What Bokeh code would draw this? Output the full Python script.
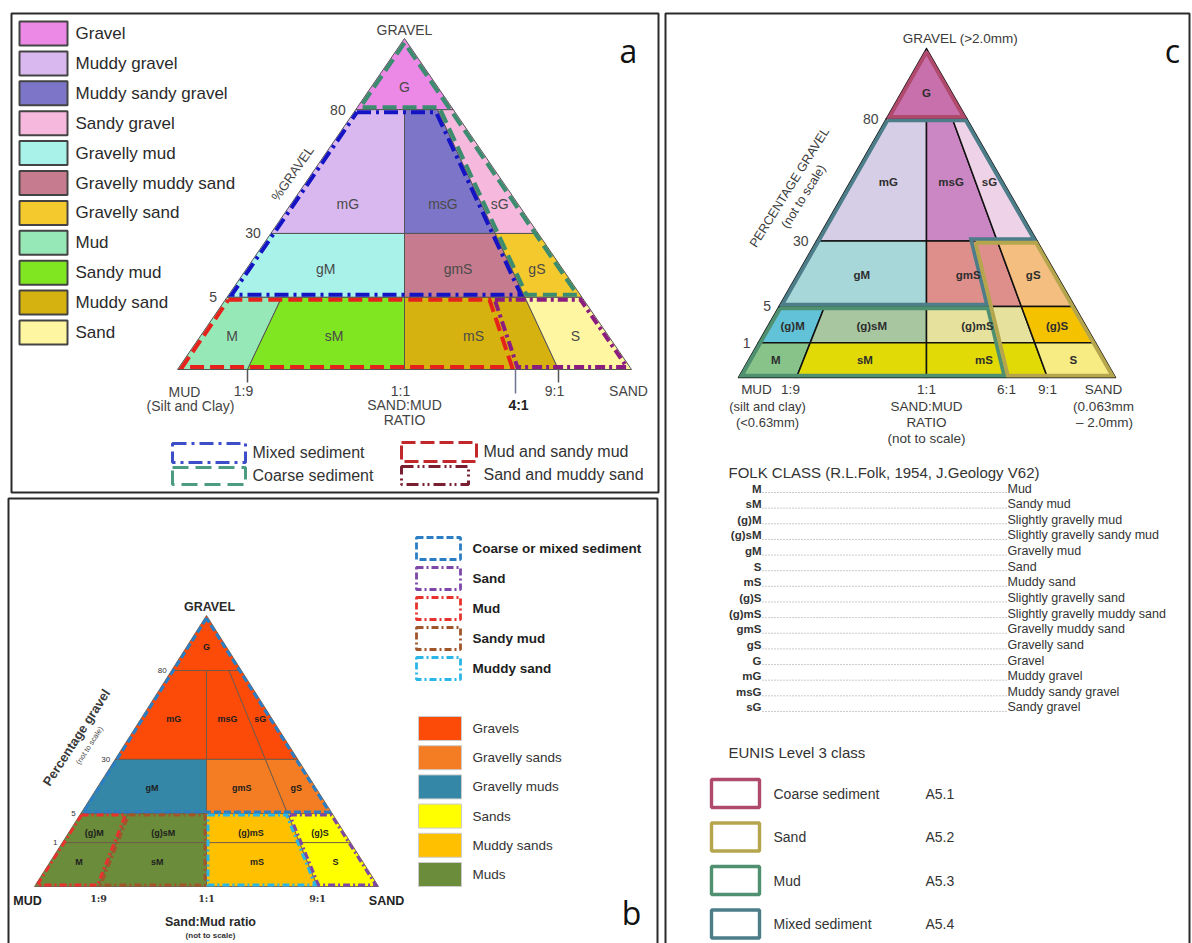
import numpy as np
from bokeh.plotting import figure
from bokeh.models import Range1d
from bokeh.core.properties import value
from bokeh.embed import file_html
from bokeh.resources import INLINE

H = 943
SANS = "Liberation Sans"

# ======================= DATA =======================
# Panel a : Folk classes (gravel % range, sand fraction sand/(sand+mud) range)
a_codes = ["G", "mG", "msG", "sG", "gM", "gmS", "gS", "M", "sM", "mS", "S"]
a_gravel_lo = [80, 30, 30, 30, 5, 5, 5, 0, 0, 0, 0]
a_gravel_hi = [100, 80, 80, 80, 30, 30, 30, 5, 5, 5, 5]
a_sand_lo = [0, 0, 0.5, 0.9, 0, 0.5, 0.9, 0, 0.1, 0.5, 0.9]
a_sand_hi = [1, 0.5, 0.9, 1, 0.5, 0.9, 1, 0.1, 0.5, 0.9, 1]
a_names = ["Gravel", "Muddy gravel", "Muddy sandy gravel", "Sandy gravel", "Gravelly mud",
           "Gravelly muddy sand", "Gravelly sand", "Mud", "Sandy mud", "Muddy sand", "Sand"]
a_gravel_ticks = [80, 30, 5]
a_ratio_labels = ["1:9", "1:1", "4:1", "9:1"]
a_ratio_values = [0.1, 0.5, 0.8, 0.9]
a_outline_names = ["Mixed sediment", "Coarse sediment", "Mud and sandy mud", "Sand and muddy sand"]
a_outline_pts = [
    [(80, 0), (80, 0.9), (5, 0.9), (5, 0)],
    [(100, 0.5), (80, 0), (80, 0.9), (5, 0.9), (5, 1)],
    [(5, 0), (5, 0.8), (0, 0.8), (0, 0)],
    [(5, 0.8), (5, 1), (0, 1), (0, 0.8)],
]

# Panels b and c : Folk classes with the 1 % gravel level
folk_codes = ["G", "mG", "msG", "sG", "gM", "gmS", "gS", "(g)M", "(g)sM", "(g)mS", "(g)S", "M", "sM", "mS", "S"]
folk_gravel_lo = [80, 30, 30, 30, 5, 5, 5, 1, 1, 1, 1, 0, 0, 0, 0]
folk_gravel_hi = [100, 80, 80, 80, 30, 30, 30, 5, 5, 5, 5, 1, 1, 1, 1]
folk_sand_lo = [0, 0, 0.5, 0.9, 0, 0.5, 0.9, 0, 0.1, 0.5, 0.9, 0, 0.1, 0.5, 0.9]
folk_sand_hi = [1, 0.5, 0.9, 1, 0.5, 0.9, 1, 0.1, 0.5, 0.9, 1, 0.1, 0.5, 0.9, 1]

b_groups = ["Gravels", "Gravels", "Gravels", "Gravels", "Gravelly muds", "Gravelly sands", "Gravelly sands",
            "Muds", "Muds", "Muddy sands", "Sands", "Muds", "Muds", "Muddy sands", "Sands"]
b_group_names = ["Gravels", "Gravelly sands", "Gravelly muds", "Sands", "Muddy sands", "Muds"]
b_outline_names = ["Coarse or mixed sediment", "Sand", "Mud", "Sandy mud", "Muddy sand"]
b_outline_pts = [
    [(100, 0.5), (5, 0), (5, 1)],
    [(5, 0.9), (5, 1), (0, 1), (0, 0.9)],
    [(5, 0), (5, 0.1), (0, 0.1), (0, 0)],
    [(5, 0.1), (5, 0.5), (0, 0.5), (0, 0.1)],
    [(5, 0.5), (5, 0.9), (0, 0.9), (0, 0.5)],
]
b_gravel_ticks = [80, 30, 5, 1]
b_ratio_labels = ["1:9", "1:1", "9:1"]
b_ratio_values = [0.1, 0.5, 0.9]

c_gravel_ticks = [80, 30, 5, 1]
c_ratio_labels = ["1:9", "1:1", "6:1", "9:1"]
c_ratio_values = [0.1, 0.5, 6 / 7, 0.9]
eunis_names = ["Coarse sediment", "Sand", "Mud", "Mixed sediment"]
eunis_codes = ["A5.1", "A5.2", "A5.3", "A5.4"]
eunis_pts = [
    [(100, 0.5), (80, 0), (80, 1)],
    [(30, 6 / 7), (30, 1), (0, 1), (0, 6 / 7)],
    [(5, 0), (5, 6 / 7), (0, 6 / 7), (0, 0)],
    [(80, 0), (80, 1), (30, 1), (30, 6 / 7), (5, 6 / 7), (5, 0)],
]
table_codes = ["M", "sM", "(g)M", "(g)sM", "gM", "S", "mS", "(g)S", "(g)mS", "gmS", "gS", "G", "mG", "msG", "sG"]
table_names = ["Mud", "Sandy mud", "Slightly gravelly  mud", "Slightly gravelly sandy mud", "Gravelly mud",
               "Sand", "Muddy sand", "Slightly gravelly sand", "Slightly gravelly muddy sand",
               "Gravelly muddy sand", "Gravelly sand", "Gravel", "Muddy gravel", "Muddy sandy gravel",
               "Sandy gravel"]

# ======================= STYLE / LAYOUT =======================
a_colors = ["#EC88E6", "#D9B8F0", "#7D76C8", "#F6B8DC", "#A8F2EA", "#C67C8E", "#F4C92E",
            "#96E8B6", "#80E622", "#D6B210", "#FFF6A2"]
b_group_colors = {"Gravels": "#FC4A08", "Gravelly sands": "#F47C22", "Gravelly muds": "#3487A7",
                  "Sands": "#FFFF00", "Muddy sands": "#FFC000", "Muds": "#6B8C3A"}
c_colors = ["#C870AC", "#D6CEE6", "#CB87C3", "#EED3E8", "#A7D7D8", "#DF8F8B", "#F4BE80",
            "#62C3D8", "#A8C6A0", "#E6E29E", "#F5C200", "#88C48A", "#E2DA06", "#E2DA06", "#F7EC84"]
a_outline_style = [("#1414C4", "14 5 3 5"), ("#3C8C70", "14 6"), ("#E6221C", "14 6"), ("#8C1C80", "10 4 3 4")]
a_legend_style = [("#3C4EC8", "14 5 3 5"), ("#4C9C84", "16 7"), ("#C0282C", "14 5"), ("#7A1E32", "12 4 2 3 2 4")]
b_outline_style = [("#2C7EC4", "7 3"), ("#7D47A8", "7 3 2 3"), ("#E8322E", "7 3 2 3"),
                   ("#A0562A", "7 3 2 3"), ("#2AB6E6", "7 3 2 3")]
eunis_colors = ["#B04A6C", "#B5A64E", "#4F9070", "#4E7D8A"]

GA = dict(ax=404, ay=38, by=369, g=[0, 5, 30, 80, 100], h=[0, 0.218, 0.411, 0.785, 1.0],
          s=[0, 0.1, 0.5, 0.8, 0.9, 1.0], bx=[177, 247, 404, 515, 558, 631])
GB = dict(ax=206, ay=615, by=886, g=[0, 1, 5, 30, 80, 100], h=[0, 0.162, 0.269, 0.469, 0.797, 1.0],
          s=[0, 0.1, 0.5, 0.9, 1.0], bx=[34, 98, 206, 317, 378])
GC = dict(ax=926, ay=48, by=377, g=[0, 1, 5, 30, 80, 100], h=[0, 0.106, 0.216, 0.415, 0.787, 1.0],
          s=[0, 0.1, 0.5, 6 / 7, 0.9, 1.0], bx=[738, 796, 926, 1006, 1047, 1115])
A_T = {80: 0.68, 30: 0.76, 5: 0.55, 0: 0.53}
B_T = {80: 0.58, 30: 0.54, 5: 0.52, 1: 0.66, 0: 0.45}
C_T = {80: 0.63, 30: 0.52, 5: 0.52, 1: 0.53, 0: 0.51}


# ======================= HELPERS =======================
def tern(geo, g, s):
    g = np.atleast_1d(np.asarray(g, float))
    s = np.atleast_1d(np.asarray(s, float))
    h = np.interp(g, geo["g"], geo["h"])
    b = np.interp(s, geo["s"], geo["bx"])
    x = geo["ax"] + (b - geo["ax"]) * (1 - h)
    yi = geo["by"] + h * (geo["ay"] - geo["by"])
    return x, yi


def tern_h(geo, h, s):
    b = np.interp(s, geo["s"], geo["bx"])
    return geo["ax"] + (b - geo["ax"]) * (1 - h), geo["by"] + h * (geo["ay"] - geo["by"])


def inset(xs, ys, d):
    P = np.column_stack([xs, ys]).astype(float)
    n = len(P)
    area = 0.5 * np.sum(P[:, 0] * np.roll(P[:, 1], -1) - np.roll(P[:, 0], -1) * P[:, 1])
    sg = 1.0 if area > 0 else -1.0
    lines = []
    for i in range(n):
        p0, p1 = P[i], P[(i + 1) % n]
        e = p1 - p0
        L = np.hypot(*e)
        nrm = sg * np.array([-e[1], e[0]]) / L
        lines.append((p0 + d * nrm, e))
    out = []
    for i in range(n):
        (q1, d1), (q2, d2) = lines[i - 1], lines[i]
        cr = d1[0] * d2[1] - d1[1] * d2[0]
        if abs(cr) < 1e-9:
            out.append(q2)
        else:
            t = ((q2 - q1)[0] * d2[1] - (q2 - q1)[1] * d2[0]) / cr
            out.append(q1 + t * d1)
    out = np.array(out)
    return list(out[:, 0]), list(out[:, 1])


p = figure(width=1192, height=943, x_range=Range1d(0, 1192), y_range=Range1d(0, 943),
           output_backend="svg", toolbar_location=None, min_border=0,
           x_axis_location=None, y_axis_location=None, outline_line_color=None)
p.grid.visible = False


def T(xs, ys, texts, size, color="#333333", style="normal", align="center", baseline="middle",
      angle=0.0, font=SANS):
    p.text(x=list(xs), y=[H - v for v in ys], text=list(texts), text_font=value(font),
           text_font_size=value(f"{size}px"), text_color=color, text_font_style=style,
           text_align=align, text_baseline=baseline, angle=angle)


def R(x0, x1, y0, y1, fill=None, line="#333333", lw=1.0, dash="solid"):
    p.quad(left=[x0], right=[x1], top=[H - y0], bottom=[H - y1], fill_color=fill,
           line_color=line, line_width=lw, line_dash=dash)


def regions(geo, glo, ghi, slo, shi, colors, lc, lw):
    xs, ys = [], []
    for a, b, c, d in zip(glo, ghi, slo, shi):
        x, y = tern(geo, [a, a, b, b], [c, d, d, c])
        xs.append(list(x))
        ys.append([H - v for v in y])
    p.patches(xs=xs, ys=ys, fill_color=colors, line_color=lc, line_width=lw, line_join="round")


def region_labels(geo, glo, ghi, slo, shi, codes, tmap, size, color, style):
    lx, ly = [], []
    for a, b, c, d in zip(glo, ghi, slo, shi):
        hl = np.interp(a, geo["g"], geo["h"])
        hh = np.interp(b, geo["g"], geo["h"])
        h = hh - tmap[a] * (hh - hl)
        x1, yy = tern_h(geo, h, c)
        x2, _ = tern_h(geo, h, d)
        lx.append((x1 + x2) / 2)
        ly.append(yy)
    T(lx, ly, codes, size, color, style)


def outline(geo, pts, color, dash, lw, d):
    x, y = tern(geo, [q[0] for q in pts], [q[1] for q in pts])
    x, y = inset(x, y, d)
    x = x + [x[0]]
    y = y + [y[0]]
    p.line(x=x, y=[H - v for v in y], line_color=color, line_dash=dash, line_width=lw, line_join="miter")


def gravel_ticks(geo, ticks, size, color, dx, style="normal"):
    x, y = tern(geo, ticks, [0] * len(ticks))
    T(x + dx, y, [str(t) for t in ticks], size, color, style, align="right")


# ======================= PANEL BORDERS =======================
R(11, 658, 13, 492, None, "#2A2A2A", 2)
R(8, 657, 498, 960, None, "#2A2A2A", 2)
R(665, 1189, 13, 960, None, "#2A2A2A", 2)

# ======================= PANEL A =======================
regions(GA, a_gravel_lo, a_gravel_hi, a_sand_lo, a_sand_hi, a_colors, "#555555", 1.0)
for pts, (col, dash) in zip(a_outline_pts[2:], a_outline_style[2:]):
    outline(GA, pts, col, dash, 4, 2.5)
for pts, (col, dash) in zip(a_outline_pts[:2][::-1], a_outline_style[:2][::-1]):
    outline(GA, pts, col, dash, 4, 2.5)
region_labels(GA, a_gravel_lo, a_gravel_hi, a_sand_lo, a_sand_hi, a_codes, A_T, 14, "#4A4A4A", "normal")
gravel_ticks(GA, a_gravel_ticks, 14, "#444444", -10)
T([GA["ax"]], [GA["ay"] - 9], ["GRAVEL"], 14, "#444444")
T([292], [173], ["%GRAVEL"], 13, "#444444", angle=np.radians(55))
tx, ty = tern(GA, [0] * len(a_ratio_values), a_ratio_values)
tick_len = {"1:9": 13, "1:1": 0, "4:1": 24, "9:1": 13}
for xv, lab in zip(tx, a_ratio_labels):
    if tick_len[lab]:
        p.segment(x0=[xv], y0=[H - GA["by"]], x1=[xv], y1=[H - GA["by"] - tick_len[lab]],
                  line_color="#6A7590" if lab == "4:1" else "#555555", line_width=1.5)
for xv, lab in zip(tx, a_ratio_labels):
    if lab == "4:1":
        T([xv + 3], [404], [lab], 14, "#222222", "bold")
    else:
        T([xv - 4], [390], [lab], 14, "#444444")
T([404, 404], [404, 419], ["SAND:MUD", "RATIO"], 14, "#444444")
T([184, 190], [391, 405], ["MUD", "(Silt and Clay)"], 14, "#444444")
T([628], [390], ["SAND"], 14, "#444444")
# legend (left)
for i, (nm, col) in enumerate(zip(a_names, a_colors)):
    yc = 33 + 29.9 * i
    R(19, 67, yc - 12, yc + 12, col, "#444444", 2)
    T([75], [yc], [nm], 17, "#2A2A2A", align="left")
# legend (bottom)
leg_boxes = [(172, 245, 443, 462), (172, 245, 467, 484), (401, 476, 442, 461), (401, 468, 466, 484)]
leg_text = [(252, 452), (252, 475), (483, 451), (483, 474)]
for (x0, x1, y0, y1), (col, dash), nm, (lx, ly) in zip(leg_boxes, a_legend_style, a_outline_names, leg_text):
    R(x0, x1, y0, y1, None, col, 3, dash)
    T([lx], [ly], [nm], 16, "#333333", align="left")
T([628], [50], ["a"], 32, "#111111", font="Open Sans")

# ======================= PANEL B =======================
b_colors = [b_group_colors[g] for g in b_groups]
regions(GB, folk_gravel_lo, folk_gravel_hi, folk_sand_lo, folk_sand_hi, b_colors, "#6E5A48", 0.9)
order_b = [0, 3, 4, 2, 1]
for k in order_b:
    col, dash = b_outline_style[k]
    outline(GB, b_outline_pts[k], col, dash, 3, 1.5)
region_labels(GB, folk_gravel_lo, folk_gravel_hi, folk_sand_lo, folk_sand_hi, folk_codes, B_T, 9, "#1E1E1E", "bold")
gravel_ticks(GB, b_gravel_ticks, 8, "#333333", -5)
T([209], [606], ["GRAVEL"], 12.5, "#2A2A2A", "bold")
T([76], [737], ["Percentage gravel"], 13, "#3A3A3A", "bold", angle=np.radians(57))
T([89], [745], ["(not to scale)"], 7.5, "#444444", angle=np.radians(57))
tx, ty = tern(GB, [0] * len(b_ratio_values), b_ratio_values)
T(tx, [898] * len(tx), b_ratio_labels, 9.5, "#333333", "bold", font="DejaVu Serif")
T([27], [900], ["MUD"], 12.5, "#222222", "bold")
T([386], [900], ["SAND"], 12.5, "#222222", "bold")
T([210], [921], ["Sand:Mud ratio"], 12.5, "#2A2A2A", "bold")
T([210], [935], ["(not to scale)"], 8, "#333333", "bold")
for i, (nm, (col, dash)) in enumerate(zip(b_outline_names, b_outline_style)):
    yc = 548 + 30 * i
    R(416, 460, yc - 11, yc + 11, None, col, 2.8, dash)
    T([472], [yc], [nm], 13.5, "#1E1E1E", "bold", align="left")
for i, nm in enumerate(b_group_names):
    yc = 728 + 29.2 * i
    R(418, 461, yc - 12, yc + 12, b_group_colors[nm], "#CCCCCC", 1)
    T([472], [yc], [nm], 13.5, "#333333", align="left")
T([631], [912], ["b"], 32, "#111111", font="Open Sans")

# ======================= PANEL C =======================
regions(GC, folk_gravel_lo, folk_gravel_hi, folk_sand_lo, folk_sand_hi, c_colors, "#111111", 1.5)
for k in [3, 2, 1, 0]:
    outline(GC, eunis_pts[k], eunis_colors[k], "solid", 3.8, 1.8)
region_labels(GC, folk_gravel_lo, folk_gravel_hi, folk_sand_lo, folk_sand_hi, folk_codes, C_T, 11.5, "#2E2E2E", "bold")
gravel_ticks(GC, c_gravel_ticks, 14, "#444444", -8)
T([960], [38], ["GRAVEL (>2.0mm)"], 13.5, "#3A3A3A")
T([789], [187], ["PERCENTAGE GRAVEL"], 12.5, "#3A3A3A", angle=np.radians(58))
T([803], [196], ["(not to scale)"], 12.5, "#3A3A3A", angle=np.radians(58))
tx, ty = tern(GC, [0] * len(c_ratio_values), c_ratio_values)
T(tx - np.array([6, 0, 0, 0]), [389] * len(tx), c_ratio_labels, 13.5, "#3A3A3A")
T([756], [389], ["MUD"], 13.5, "#3A3A3A")
T([767, 767], [406, 422], ["(silt and clay)", "(<0.63mm)"], 13, "#3A3A3A")
T([926, 926, 926], [406, 422, 438], ["SAND:MUD", "RATIO", "(not to scale)"], 13.5, "#3A3A3A")
T([1103, 1103, 1104], [389, 406, 422], ["SAND", "(0.063mm", "\u2013 2.0mm)"], 13.5, "#3A3A3A")
T([1172], [50], ["c"], 32, "#111111", font="Open Sans")
# Folk table
T([728], [472], ["FOLK CLASS (R.L.Folk, 1954, J.Geology V62)"], 15, "#333333", align="left")
row_y = [488 + 15.64 * i for i in range(len(table_codes))]
p.segment(x0=[762] * len(row_y), y0=[H - y - 4 for y in row_y], x1=[1006] * len(row_y),
          y1=[H - y - 4 for y in row_y], line_color="#8A8A8A", line_width=0.9, line_dash="1 2")
T([761] * len(row_y), row_y, table_codes, 11.5, "#333333", "bold", align="right")
T([1007] * len(row_y), row_y, table_names, 12.5, "#333333", align="left")
# EUNIS legend
T([728], [752], ["EUNIS Level 3 class"], 15, "#333333", align="left")
for i, (nm, cd, col) in enumerate(zip(eunis_names, eunis_codes, eunis_colors)):
    yc = 793 + 43.5 * i
    R(711, 759, yc - 14, yc + 14, None, col, 3.4)
    T([773], [yc], [nm], 14, "#333333", align="left")
    T([925], [yc], [cd], 14, "#333333", align="left")

open("out.html", "w").write(file_html(p, INLINE))
